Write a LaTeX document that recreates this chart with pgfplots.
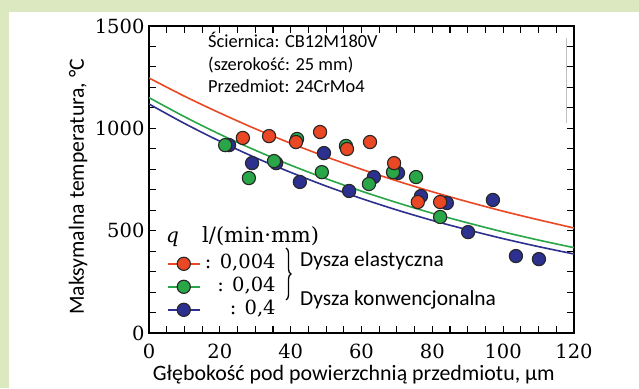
\documentclass[border=0pt]{standalone}
\usepackage{pgfplots}
\pgfplotsset{compat=1.18}
\usepackage{pgfplotstable}
\usepackage{fontspec}
\newfontfamily\calfont{Carlito}
\newfontfamily\numfont{DejaVu Serif}
\usetikzlibrary{decorations.pathreplacing}
\definecolor{bgg}{RGB}{220,233,192}
\definecolor{cred}{RGB}{234,72,36}
\definecolor{cgreen}{RGB}{40,166,72}
\definecolor{cblue}{RGB}{44,48,142}

\pgfplotstableread{
x y
26.5 953
33.9 962
41.5 933
48.3 982
55.9 899
62.4 933
69.2 830
75.9 640
82.2 640
}\redpts
\pgfplotstableread{
x y
21.5 918
28.2 757
35.3 840
41.8 948
48.8 786
55.6 914
62.1 728
68.9 786
75.4 762
82.2 567
}\greenpts
\pgfplotstableread{
x y
22.6 918
29.1 830
35.9 830
42.6 738
49.4 879
56.5 694
63.5 762
70.3 782
76.8 669
84.1 635
90.1 493
97.1 650
103.6 376
110.1 361
}\bluepts
\pgfplotstableread{
x y
0 1246
10 1157
20 1075
30 998
40 927
50 861
60 800
70 743
80 690
90 641
100 595
110 553
120 513
}\redfit
\pgfplotstableread{
x y
0 1150
10 1057
20 971
30 893
40 820
50 754
60 693
70 637
80 585
90 538
100 494
110 454
120 417
}\greenfit
\pgfplotstableread{
x y
0 1119
10 1024
20 937
30 857
40 785
50 718
60 657
70 601
80 550
90 504
100 461
110 422
120 386
}\bluefit

\newcommand{\nf}{\numfont\fontsize{19.5}{22}\selectfont}

\begin{document}
\begin{tikzpicture}[x=1pt,y=1pt]
\useasboundingbox (0,0) rectangle (639,388);
\fill[white] (0,0) rectangle (639,388);
\fill[bgg] (0,376) rectangle (639,388);
\fill[bgg] (0,0) rectangle (9,388);
\begin{axis}[
  at={(149pt,55pt)}, anchor=south west,
  scale only axis, width=425pt, height=307pt,
  xmin=0, xmax=120, ymin=0, ymax=1500,
  xtick={0,20,...,120}, ytick={0,500,1000,1500},
  minor x tick num=3, minor y tick num=4,
  tick align=inside,
  major tick length=7pt, minor tick length=7pt,
  axis line style={line width=1.8pt},
  every tick/.style={black, line width=1.1pt},
  /pgf/number format/1000 sep={},
  /pgf/number format/assume math mode=true,
  tick label style={font=\nf},
  xticklabel style={yshift=-7pt},
  yticklabel style={xshift=-1pt},
  xlabel={Głębokość pod powierzchnią przedmiotu, µm},
  ylabel={Maksymalna temperatura, °C},
  xlabel style={font=\calfont\fontsize{21.9}{24}\selectfont, at={(axis description cs:0.482,-0.137)}, anchor=center},
  ylabel style={font=\calfont\fontsize{21.7}{24}\selectfont, at={(axis description cs:-0.167,0.476)}, anchor=center, rotate=0},
  legend style={at={(axis description cs:0.035,0.270)}, anchor=north west,
    draw=none, fill=none,
    nodes={font=\nf, text height=15pt, text depth=5pt, inner sep=1.5pt},
    column sep=3pt},
  legend cell align=right,
  legend image code/.code={\draw[mark repeat=2,mark phase=2,#1] plot coordinates {(0pt,0pt) (16pt,0pt) (32pt,0pt)};},
  mark size=6.6pt,
]
\addplot[cred, line width=1.6pt, smooth, forget plot] table[x=x,y=y] {\redfit};
\addplot[cgreen, line width=1.6pt, smooth, forget plot] table[x=x,y=y] {\greenfit};
\addplot[cblue, line width=1.6pt, smooth, forget plot] table[x=x,y=y] {\bluefit};
\addplot[only marks, mark=*, mark options={fill=cblue, draw=black!85, line width=1.1pt}, forget plot] table[x=x,y=y] {\bluepts};
\addplot[only marks, mark=*, mark options={fill=cgreen, draw=black!85, line width=1.1pt}, forget plot] table[x=x,y=y] {\greenpts};
\addplot[only marks, mark=*, mark options={fill=cred, draw=black!85, line width=1.1pt}, forget plot] table[x=x,y=y] {\redpts};
\addlegendimage{cred, line width=1.4pt, mark=*, mark options={fill=cred, draw=black!85, line width=1.1pt}}
\addlegendentry{: 0,004}
\addlegendimage{cgreen, line width=1.4pt, mark=*, mark options={fill=cgreen, draw=black!85, line width=1.1pt}}
\addlegendentry{: 0,04}
\addlegendimage{cblue, line width=1.4pt, mark=*, mark options={fill=cblue, draw=black!85, line width=1.1pt}}
\addlegendentry{: 0,4}
\end{axis}
\draw[black!25, line width=0.8pt] (566.5,350) -- (566.5,265);
\begin{scope}[every node/.style={inner sep=0pt, font=\calfont\fontsize{18.4}{20}\selectfont}]
\node[anchor=mid west] at (208,343) {Ściernica: CB12M180V};
\node[anchor=mid west] at (208,320) {(szerokość: 25 mm)};
\node[anchor=mid west] at (208,298) {Przedmiot: 24CrMo4};
\node[anchor=mid west, font=\calfont\fontsize{21.4}{22}\selectfont] at (300,124) {Dysza elastyczna};
\node[anchor=mid west, font=\calfont\fontsize{21.4}{22}\selectfont] at (300,85) {Dysza konwencjonalna};
\end{scope}
\node[anchor=mid west, inner sep=0pt, font=\numfont\fontsize{20}{22}\selectfont] at (166,148) {\itshape q};
\node[anchor=mid west, inner sep=0pt, font=\numfont\fontsize{21}{22}\selectfont] at (202,148) {l/(min·mm)};
\draw[decorate, decoration={brace, amplitude=5pt}, line width=1.3pt] (286,140) -- (286,88);
\end{tikzpicture}
\end{document}
